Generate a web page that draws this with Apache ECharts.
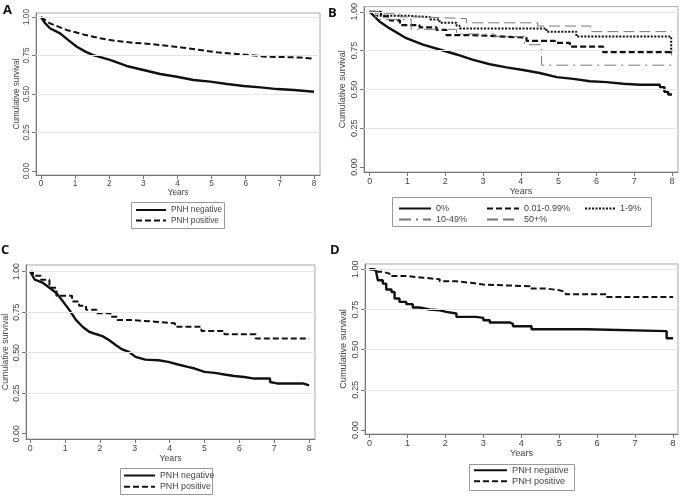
<!DOCTYPE html>
<html><head><meta charset="utf-8">
<script src="https://cdn.jsdelivr.net/npm/echarts@6/dist/echarts.min.js"></script>
<style>html,body{margin:0;padding:0;background:#fff}#c{width:680px;height:496px}</style>
</head><body><div id="c"></div>
<script>
// ---------- data ----------
const xTicks = [0,1,2,3,4,5,6,7,8];
const yTicks = [0,0.25,0.5,0.75,1];
const gridVals = [0.25,0.5,0.75,1];

// Panel A
const aNegT = [0,0.1,0.26,0.56,0.8,1.05,1.3,1.53,2.02,2.51,3.0,3.49,3.98,4.47,4.96,5.45,5.94,6.43,6.92,7.41,8];
const aNegV = [1,0.965,0.927,0.894,0.85,0.807,0.775,0.753,0.721,0.682,0.656,0.63,0.612,0.591,0.58,0.565,0.552,0.543,0.532,0.526,0.515];
const aPosT = [0,0.26,0.75,1.24,1.73,2.22,2.7,3.19,3.68,4.17,4.66,5.15,5.63,6.12,6.61,7.1,7.59,8];
const aPosV = [1,0.959,0.916,0.887,0.862,0.844,0.833,0.825,0.814,0.801,0.786,0.771,0.762,0.753,0.742,0.74,0.737,0.729];

// Panel B
const b0T = [0,0.27,0.53,0.97,1.41,1.85,2.3,2.74,3.18,3.62,4.06,4.5,4.95,5.39,5.83,6.27,6.71,7.15,7.62,7.68,7.68,7.8,7.8,7.9,7.9,8];
const b0V = [1,0.935,0.893,0.83,0.788,0.757,0.725,0.69,0.662,0.642,0.625,0.606,0.579,0.568,0.553,0.547,0.537,0.53,0.53,0.53,0.515,0.515,0.484,0.484,0.467,0.467];
const b1T = [0,0.3,0.53,0.8,1.32,1.77,2.03,2.65,3.18,3.53,4.15,4.9,5.3,6.18,8];
const b1V = [1,0.97,0.945,0.914,0.9,0.883,0.85,0.845,0.84,0.834,0.813,0.8,0.775,0.74,0.74];
const b2T = [0,0.2,1.0,1.6,1.85,2.3,2.38,4.68,5.47,7.98,8];
const b2V = [1,0.975,0.965,0.95,0.93,0.91,0.893,0.872,0.84,0.725,0.725];
const b3T = [0,0.15,1.1,2.3,3.3,4.1,4.55,8];
const b3V = [1,0.95,0.887,0.857,0.84,0.788,0.656,0.656];
const b4T = [0,0.2,0.8,1.3,2.56,4.45,5.85,8];
const b4V = [1,0.987,0.967,0.956,0.929,0.908,0.872,0.872];

// Panel C
const cNegT = [0,0.13,0.37,0.56,0.75,0.94,1.12,1.31,1.5,1.69,1.88,2.07,2.26,2.45,2.64,2.83,3.02,3.3,3.68,3.96,4.24,4.52,4.72,5.0,5.29,5.57,5.85,6.14,6.43,6.88,6.88,7.08,7.82,7.82,8];
const cNegV = [1,0.95,0.93,0.899,0.868,0.816,0.764,0.702,0.66,0.629,0.615,0.602,0.578,0.547,0.52,0.505,0.474,0.457,0.453,0.443,0.427,0.412,0.402,0.381,0.375,0.365,0.356,0.35,0.34,0.34,0.319,0.31,0.31,0.298,0.298];
const cPosT = [0,0.08,0.3,0.55,0.75,1.2,1.4,1.6,1.9,2.3,2.5,2.85,3.58,4.15,4.91,5.57,6.47,8];
const cPosV = [1,0.975,0.95,0.9,0.851,0.816,0.79,0.765,0.743,0.722,0.702,0.691,0.681,0.66,0.634,0.613,0.588,0.588];

// Panel D
const dNegT = [0,0.09,0.18,0.22,0.35,0.44,0.58,0.66,0.79,0.97,1.14,1.32,1.58,1.85,2.02,2.29,2.8,3.0,3.17,3.7,3.78,4.27,5.72,7.83,8];
const dNegV = [1,0.99,0.977,0.932,0.911,0.874,0.859,0.818,0.797,0.783,0.762,0.75,0.745,0.735,0.725,0.704,0.698,0.683,0.669,0.66,0.646,0.627,0.615,0.571,0.571];
const dPosT = [0,0.18,0.35,0.53,0.97,1.41,1.85,2.29,2.73,3.0,3.7,4.22,4.66,5.0,5.17,6.24,8];
const dPosV = [1,0.985,0.973,0.958,0.948,0.938,0.925,0.915,0.905,0.899,0.894,0.88,0.87,0.859,0.845,0.828,0.828];

const legendAB = ['PNH negative','PNH positive'];
const legendB = ['0%','0.01-0.99%','1-9%','10-49%','50+%'];
const panelLetters = ['A','B','C','D'];

// ---------- chart ----------
const FONT = '"Liberation Sans", Arial, sans-serif';
const TXT = '#444';
const zip = (t,v) => t.map((x,i)=>[x,v[i]]);

const grids = [
  {left:36, top:13, width:284, height:162},
  {left:364, top:3, width:314, height:169},
  {left:23, top:265, width:292, height:174},
  {left:365, top:264, width:313, height:170}
];
const xr = [[-0.147,8.176],[-0.15,8.16],[-0.122,8.17],[-0.119,8.13]];
const yr = [[-0.026,1.026],[-0.0315,1.033],[-0.033,1.041],[-0.025,1.033]];
const fs = [8.2,9,8.8,9.2];
const yNameGap = [15,17,16,17];

function leg(left, top, w, gap, data, size){
  return {left, top, orient:'vertical', padding:0, itemWidth:w, itemHeight:10, itemGap:gap, data,
    itemStyle:{opacity:0, borderWidth:0},
    textStyle:{fontFamily:FONT,fontSize:size,color:TXT}, selectedMode:false};
}

const option = {
  animation:false,
  backgroundColor:'#fff',
  grid: grids.map(g=>Object.assign({show:true,borderColor:'#a8a8a8',borderWidth:1,backgroundColor:'transparent',containLabel:false},g)),
  xAxis: grids.map((g,i)=>({
    type:'value', gridIndex:i, min:xr[i][0], max:xr[i][1],
    name:'Years', nameLocation:'middle', nameGap:14,
    nameTextStyle:{fontFamily:FONT,fontSize:fs[i],color:TXT},
    axisLine:{show:true,onZero:false,lineStyle:{color:'#777',width:1}},
    axisTick:{show:true,length:4,customValues:xTicks,lineStyle:{color:'#777'}},
    axisLabel:{customValues:xTicks,margin:5,fontFamily:FONT,fontSize:fs[i],color:TXT,formatter:v=>String(v)},
    splitLine:{show:false}
  })),
  yAxis: grids.map((g,i)=>({
    type:'value', gridIndex:i, min:yr[i][0], max:yr[i][1],
    name:'Cumulative survival', nameLocation:'middle', nameGap:yNameGap[i],
    nameTextStyle:{fontFamily:FONT,fontSize:fs[i],color:TXT},
    axisLine:{show:true,onZero:false,lineStyle:{color:'#777',width:1}},
    axisTick:{show:true,length:4,customValues:yTicks,lineStyle:{color:'#777'}},
    axisLabel:{customValues:yTicks,rotate:90,margin:5,fontFamily:FONT,fontSize:fs[i],color:TXT,formatter:v=>v.toFixed(2)},
    splitLine:{show:false}
  })),
  legend: [
    leg(135, 206, 30, 2.5, legendAB, 8.3),
    leg(398, 204, 32, 2, ['0%','10-49%'], 9),
    leg(486, 204, 32, 2, ['0.01-0.99%','50+%'], 9),
    leg(584, 204, 30, 2, ['1-9%'], 9),
    leg(123, 471, 31, 2.3, legendAB, 8.8),
    leg(473, 465.7, 33, 2, legendAB, 9.2)
  ],
  graphic: [
    {type:'rect', shape:{x:131.5,y:202.5,width:93,height:26}, style:{fill:'none',stroke:'#999',lineWidth:1}, silent:true},
    {type:'rect', shape:{x:392.5,y:197.5,width:259,height:29}, style:{fill:'none',stroke:'#999',lineWidth:1}, silent:true},
    {type:'rect', shape:{x:120.5,y:468.5,width:92,height:26}, style:{fill:'none',stroke:'#999',lineWidth:1}, silent:true},
    {type:'rect', shape:{x:469.5,y:464.5,width:105,height:26}, style:{fill:'none',stroke:'#999',lineWidth:1}, silent:true},
    {type:'text', left:3, top:4, style:{text:panelLetters[0],font:'bold 13px "Open Sans", sans-serif',fill:'#111'}},
    {type:'text', left:328, top:7, style:{text:panelLetters[1],font:'bold 13px "Open Sans", sans-serif',fill:'#111'}},
    {type:'text', left:1, top:244, style:{text:panelLetters[2],font:'bold 13px "Open Sans", sans-serif',fill:'#111'}},
    {type:'text', left:330, top:244, style:{text:panelLetters[3],font:'bold 13px "Open Sans", sans-serif',fill:'#111'}}
  ],
  series: []
};

// faint horizontal gridlines
for (let i=0;i<4;i++){
  option.series.push({type:'line', xAxisIndex:i, yAxisIndex:i, data:[], silent:true, z:1,
    markLine:{silent:true, symbol:'none', label:{show:false}, animation:false,
      lineStyle:{color:'#e6e6e6', type:'solid', width:1},
      data: gridVals.map(v=>({yAxis:v}))}});
}
function km(name, gi, t, v, style, step){
  option.series.push({type:'line', name, xAxisIndex:gi, yAxisIndex:gi, data:zip(t,v),
    step: step ? 'end' : false, symbol:'none', showSymbol:false, z:3,
    lineStyle:style, itemStyle:{color:style.color}});
}
const solid = {color:'#111', width:2.4, type:'solid'};
const dashed = {color:'#111', width:2, type:[6,3]};
km('PNH negative',0,aNegT,aNegV,solid,false);
km('PNH positive',0,aPosT,aPosV,dashed,false);
km('0%',1,b0T,b0V,solid,false);
km('0.01-0.99%',1,b1T,b1V,{color:'#111',width:2.2,type:[6,3]},true);
km('1-9%',1,b2T,b2V,{color:'#111',width:2,type:[2,1.5]},true);
km('10-49%',1,b3T,b3V,{color:'#777',width:1,type:[12,5,2,5]},true);
km('50+%',1,b4T,b4V,{color:'#777',width:1,type:[11,5]},true);
km('PNH negative',2,cNegT,cNegV,solid,false);
km('PNH positive',2,cPosT,cPosV,dashed,true);
km('PNH negative',3,dNegT,dNegV,solid,true);
km('PNH positive',3,dPosT,dPosV,dashed,true);

const chart = echarts.init(document.getElementById('c'), null, {renderer:'canvas'});
chart.setOption(option);
</script></body></html>
